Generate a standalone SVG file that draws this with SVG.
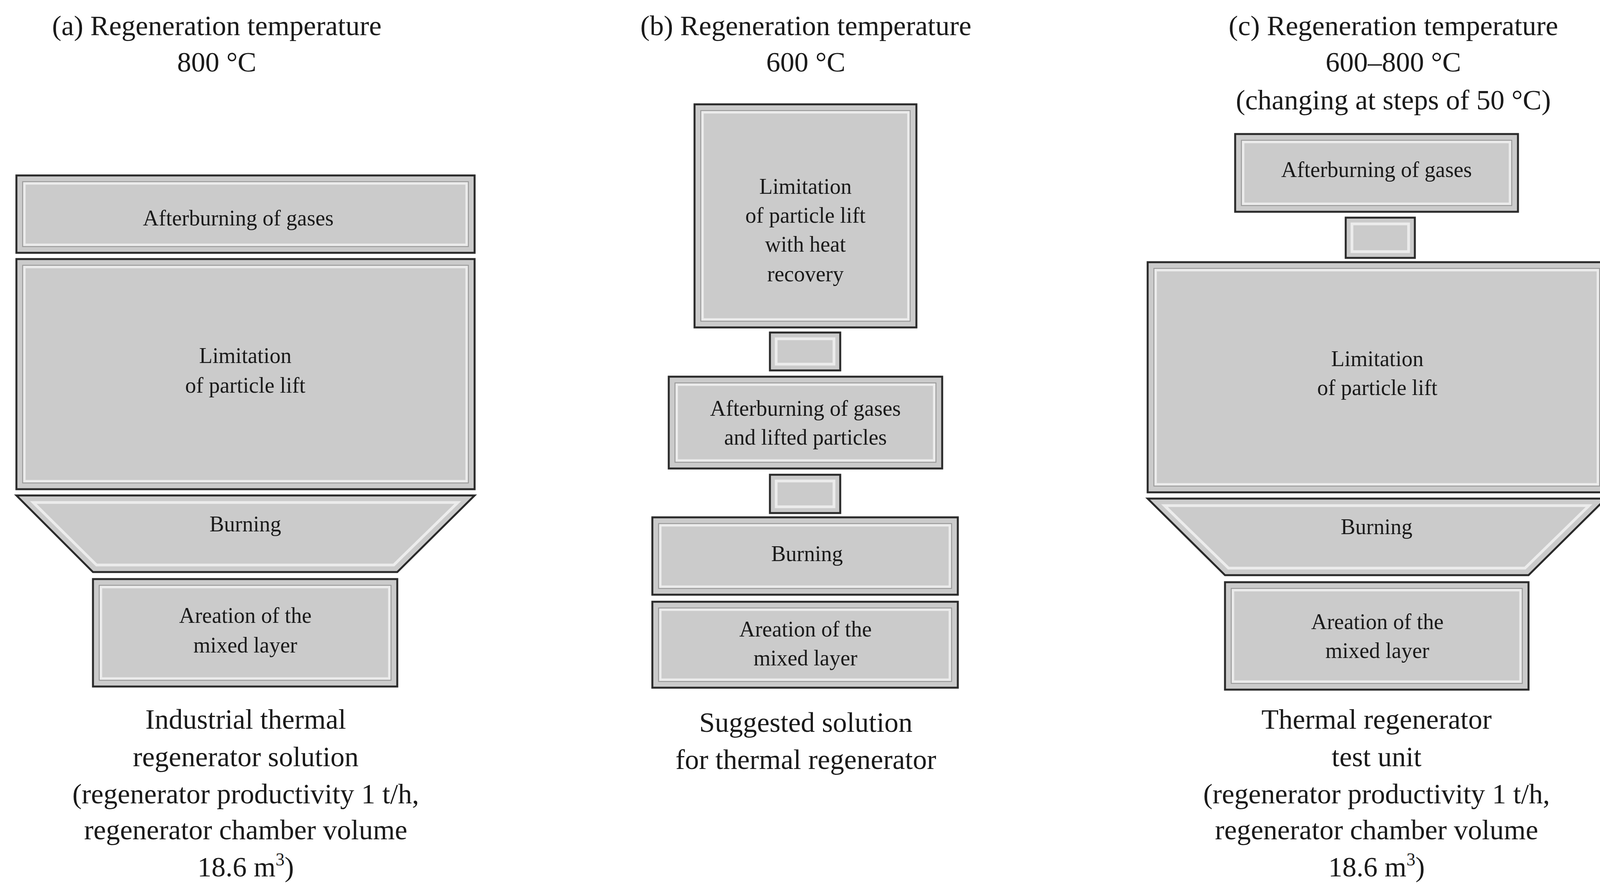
<svg xmlns="http://www.w3.org/2000/svg" width="4143" height="2288" viewBox="0 0 4143 2288">
<style>
text{font-family:"Liberation Serif","DejaVu Serif",serif;fill:#1a1a1a;text-anchor:middle}
.t{font-size:72px}
.b{font-size:56px}
.o{fill:#cbcbcb;stroke:#2a2a2a;stroke-width:5}
.i1{fill:none;stroke:#ececec;stroke-width:7}
.i2{fill:none;stroke:#9a9a9a;stroke-width:2.5}
</style>
<rect width="4143" height="2288" fill="#fff"/>
<g id="titles">
<text class="t" x="555" y="90">(a) Regeneration temperature</text>
<text class="t" x="555" y="183">800 °C</text>
<text class="t" x="2063" y="90">(b) Regeneration temperature</text>
<text class="t" x="2063" y="183">600 °C</text>
<text class="t" x="3567" y="90">(c) Regeneration temperature</text>
<text class="t" x="3567" y="183">600–800 °C</text>
<text class="t" x="3567" y="280">(changing at steps of 50 °C)</text>
</g>
<g id="a-after"><rect class="o" x="42" y="449" width="1173" height="198"/><rect class="i1" x="62" y="469" width="1133" height="158"/><rect class="i2" x="58" y="465" width="1141" height="166"/><text class="b" x="610" y="577">Afterburning of gases</text></g>
<g id="a-lim"><rect class="o" x="42" y="663" width="1173" height="589"/><rect class="i1" x="62" y="683" width="1133" height="549"/><rect class="i2" x="58" y="679" width="1141" height="557"/><text class="b" x="628" y="929">Limitation</text><text class="b" x="628" y="1005">of particle lift</text></g>
<g id="a-burn"><polygon class="o" points="42,1268 1215,1268 1017,1464 238,1464"/><polygon class="i1" points="85,1286 1172,1286 1008,1446 247,1446"/><text class="b" x="628" y="1360">Burning</text></g>
<g id="a-aer"><rect class="o" x="238" y="1482" width="779" height="275"/><rect class="i1" x="258" y="1502" width="739" height="235"/><rect class="i2" x="254" y="1498" width="747" height="243"/><text class="b" x="628" y="1594">Areation of the</text><text class="b" x="628" y="1670">mixed layer</text></g>
<g id="a-caption">
<text class="t" x="629" y="1865">Industrial thermal</text>
<text class="t" x="629" y="1961">regenerator solution</text>
<text class="t" x="629" y="2056">(regenerator productivity 1 t/h,</text>
<text class="t" x="629" y="2148">regenerator chamber volume</text>
<text class="t" x="629" y="2243">18.6 m<tspan font-size="46" dy="-28">3</tspan><tspan dy="28">)</tspan></text>
</g>
<g id="b-lim"><rect class="o" x="1778" y="267" width="568" height="571"/><rect class="i1" x="1798" y="287" width="528" height="531"/><rect class="i2" x="1794" y="283" width="536" height="539"/><text class="b" x="2062" y="496">Limitation</text><text class="b" x="2062" y="570">of particle lift</text><text class="b" x="2062" y="644">with heat</text><text class="b" x="2062" y="720">recovery</text></g>
<g id="b-after"><rect class="o" x="1712" y="964" width="700" height="235"/><rect class="i1" x="1732" y="984" width="660" height="195"/><rect class="i2" x="1728" y="980" width="668" height="203"/><text class="b" x="2062" y="1064">Afterburning of gases</text><text class="b" x="2062" y="1138">and lifted particles</text></g>
<g id="b-burn"><rect class="o" x="1670" y="1324" width="782" height="198"/><rect class="i1" x="1690" y="1344" width="742" height="158"/><rect class="i2" x="1686" y="1340" width="750" height="166"/><text class="b" x="2066" y="1436">Burning</text></g>
<g id="b-aer"><rect class="o" x="1670" y="1540" width="782" height="220"/><rect class="i1" x="1690" y="1560" width="742" height="180"/><rect class="i2" x="1686" y="1556" width="750" height="188"/><text class="b" x="2062" y="1629">Areation of the</text><text class="b" x="2062" y="1703">mixed layer</text></g>
<g id="b-caption">
<text class="t" x="2063" y="1873">Suggested solution</text>
<text class="t" x="2063" y="1968">for thermal regenerator</text>
</g>
<g id="c-after"><rect class="o" x="3162" y="343" width="724" height="199"/><rect class="i1" x="3182" y="363" width="684" height="159"/><rect class="i2" x="3178" y="359" width="692" height="167"/><text class="b" x="3524" y="453">Afterburning of gases</text></g>
<g id="c-lim"><rect class="o" x="2938" y="671" width="1173" height="589"/><rect class="i1" x="2958" y="691" width="1133" height="549"/><rect class="i2" x="2954" y="687" width="1141" height="557"/><text class="b" x="3526" y="937">Limitation</text><text class="b" x="3526" y="1011">of particle lift</text></g>
<g id="c-burn"><polygon class="o" points="2938,1276 4111,1276 3913,1472 3136,1472"/><polygon class="i1" points="2981,1294 4068,1294 3904,1454 3145,1454"/><text class="b" x="3524" y="1367">Burning</text></g>
<g id="c-aer"><rect class="o" x="3136" y="1490" width="777" height="275"/><rect class="i1" x="3156" y="1510" width="737" height="235"/><rect class="i2" x="3152" y="1506" width="745" height="243"/><text class="b" x="3526" y="1610">Areation of the</text><text class="b" x="3526" y="1684">mixed layer</text></g>
<g id="c-caption">
<text class="t" x="3524" y="1865">Thermal regenerator</text>
<text class="t" x="3524" y="1961">test unit</text>
<text class="t" x="3524" y="2056">(regenerator productivity 1 t/h,</text>
<text class="t" x="3524" y="2148">regenerator chamber volume</text>
<text class="t" x="3524" y="2243">18.6 m<tspan font-size="46" dy="-28">3</tspan><tspan dy="28">)</tspan></text>
</g>
<g id="connectors">
<g><rect class="o" x="1971" y="851" width="180" height="97"/><rect class="i1" x="1987" y="867" width="148" height="65"/></g>
<g><rect class="o" x="1971" y="1215" width="180" height="98"/><rect class="i1" x="1987" y="1231" width="148" height="66"/></g>
<g><rect class="o" x="3445" y="557" width="177" height="103"/><rect class="i1" x="3461" y="573" width="145" height="71"/></g>
</g>
</svg>
